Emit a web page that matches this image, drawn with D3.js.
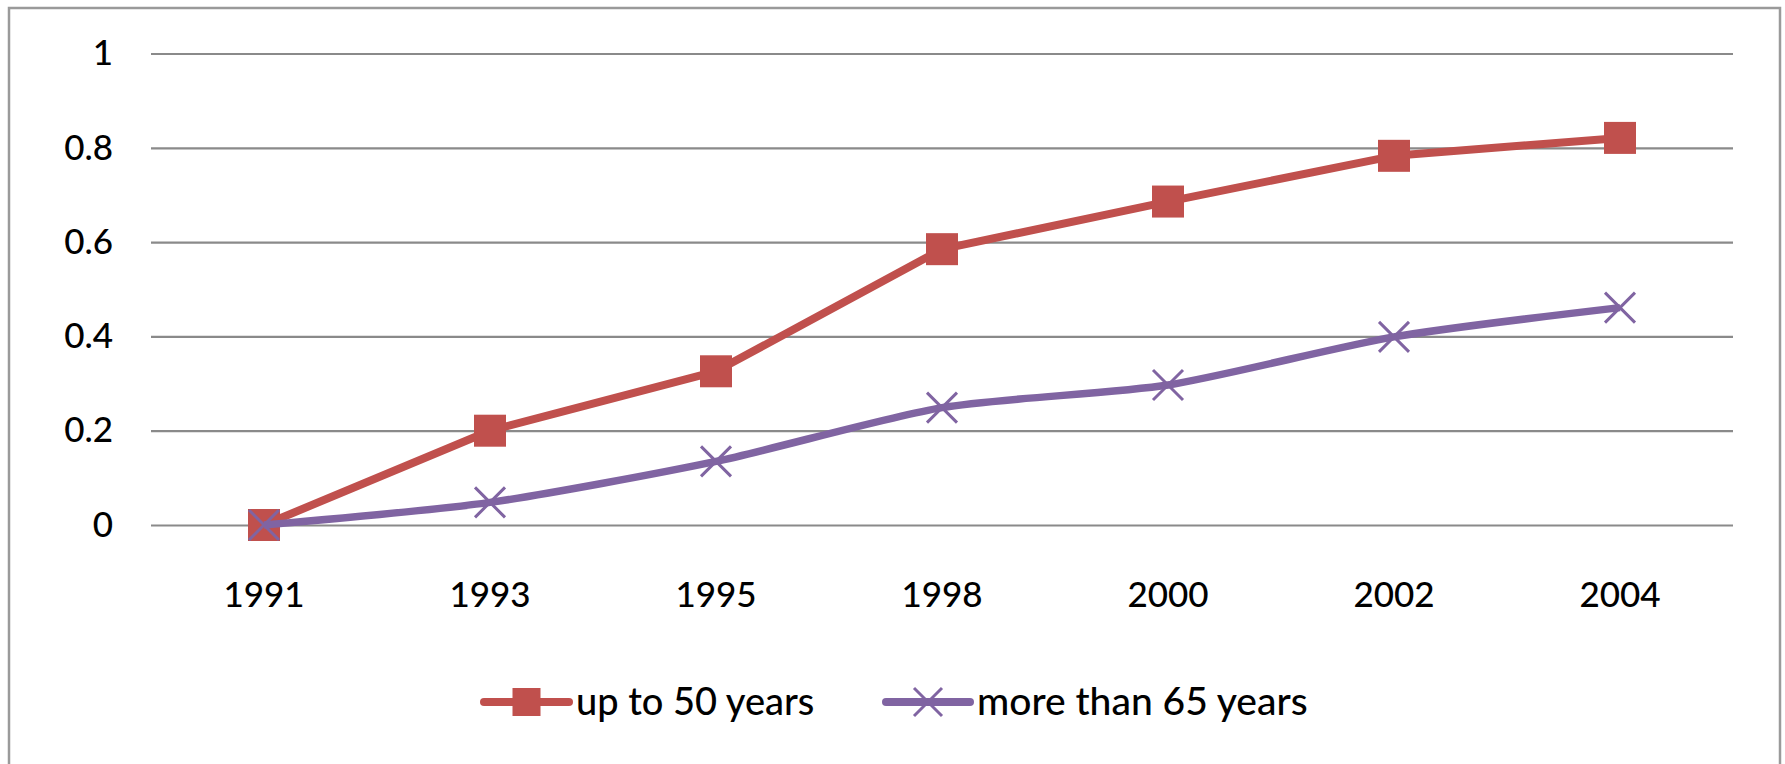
<!DOCTYPE html>
<html><head><meta charset="utf-8">
<script src="https://cdn.jsdelivr.net/npm/d3@7"></script>
<style>html,body{margin:0;padding:0;background:#fff;}svg{display:block;font-family:Lato,"Open Sans",sans-serif;}</style>
</head><body>
<svg id="c" width="1785" height="764"></svg>
<script>
const years = ["1991","1993","1995","1998","2000","2002","2004"];
const upTo50 = [0, 0.2, 0.326, 0.585, 0.686, 0.783, 0.821];
const over65 = [0, 0.048, 0.135, 0.249, 0.297, 0.399, 0.461];
const yTicks = [0, 0.2, 0.4, 0.6, 0.8, 1];
const seriesNames = ["up to 50 years", "more than 65 years"];
const colors = ["#C0504D", "#8064A2"];

const svg = d3.select("#c");
const plot = {left:151, right:1733, top:53.5, bottom:525};

svg.append("rect").attr("x",9).attr("y",8).attr("width",1771).attr("height",800)
  .attr("fill","#fff").attr("stroke","#9a9a9a").attr("stroke-width",2.5);

const x = d3.scaleBand().domain(years).range([plot.left, plot.right]).padding(0);
const y = d3.scaleLinear().domain([0,1]).range([plot.bottom, plot.top]);
const cx = d => x(d) + x.bandwidth()/2;

const yAxis = d3.axisLeft(y).tickValues(yTicks).tickSize(-(plot.right-plot.left)).tickFormat(d3.format("~g")).tickPadding(38);
const ga = svg.append("g").attr("transform",`translate(${plot.left},0)`).call(yAxis);
ga.select(".domain").remove();
ga.selectAll(".tick line").attr("stroke","#8a8a8a").attr("stroke-width",2.2);
ga.selectAll(".tick text").attr("font-size",35).attr("fill","#000").attr("font-family","Lato").attr("font-weight",500);

const xAxis = d3.axisBottom(x).tickSize(0).tickPadding(0);
const gx = svg.append("g").attr("transform",`translate(0,${plot.bottom})`).call(xAxis);
gx.select(".domain").remove();
gx.selectAll(".tick text").attr("font-size",35).attr("fill","#000").attr("font-family","Lato").attr("font-weight",500).attr("dy",null).attr("y",82);

const lineRed = d3.line().x((d,i)=>cx(years[i])).y(d=>y(d)).curve(d3.curveLinear);
const linePurple = d3.line().x((d,i)=>cx(years[i])).y(d=>y(d)).curve(d3.curveCardinal.tension(0.3));

function drawSquare(g, px, py, s, c){
  g.append("rect").attr("x",px-s/2).attr("y",py-s/2).attr("width",s).attr("height",s).attr("fill",c);
}
function drawX(g, px, py, s, c){
  g.append("path").attr("d",`M${px-s},${py-s}L${px+s},${py+s}M${px-s},${py+s}L${px+s},${py-s}`)
   .attr("stroke",c).attr("stroke-width",3).attr("fill","none");
}

const g1 = svg.append("g");
g1.append("path").datum(upTo50).attr("d",lineRed).attr("fill","none").attr("stroke",colors[0]).attr("stroke-width",8).attr("stroke-linejoin","round");
upTo50.forEach((v,i)=>drawSquare(g1, cx(years[i]), y(v), 32, colors[0]));

const g2 = svg.append("g");
g2.append("path").datum(over65).attr("d",linePurple).attr("fill","none").attr("stroke",colors[1]).attr("stroke-width",7.5).attr("stroke-linejoin","round");
over65.forEach((v,i)=>drawX(g2, cx(years[i]), y(v), 15, colors[1]));

const lg = svg.append("g");
const ly = 702;
const legendItems = [{x0:484, x1:569, tx:576, fs:38}, {x0:886, x1:970, tx:977, fs:39}];
legendItems.forEach((it,i)=>{
  lg.append("line").attr("x1",it.x0).attr("x2",it.x1).attr("y1",ly).attr("y2",ly)
    .attr("stroke",colors[i]).attr("stroke-width",8).attr("stroke-linecap","round");
  const mx=(it.x0+it.x1)/2;
  if(i===0) drawSquare(lg, mx, ly, 28, colors[0]); else drawX(lg, mx, ly, 14, colors[1]);
  lg.append("text").attr("x",it.tx).attr("y",ly+13).attr("font-size",it.fs).attr("font-family","Lato").attr("font-weight",500).attr("fill","#000").text(seriesNames[i]);
});
</script>
</body></html>
